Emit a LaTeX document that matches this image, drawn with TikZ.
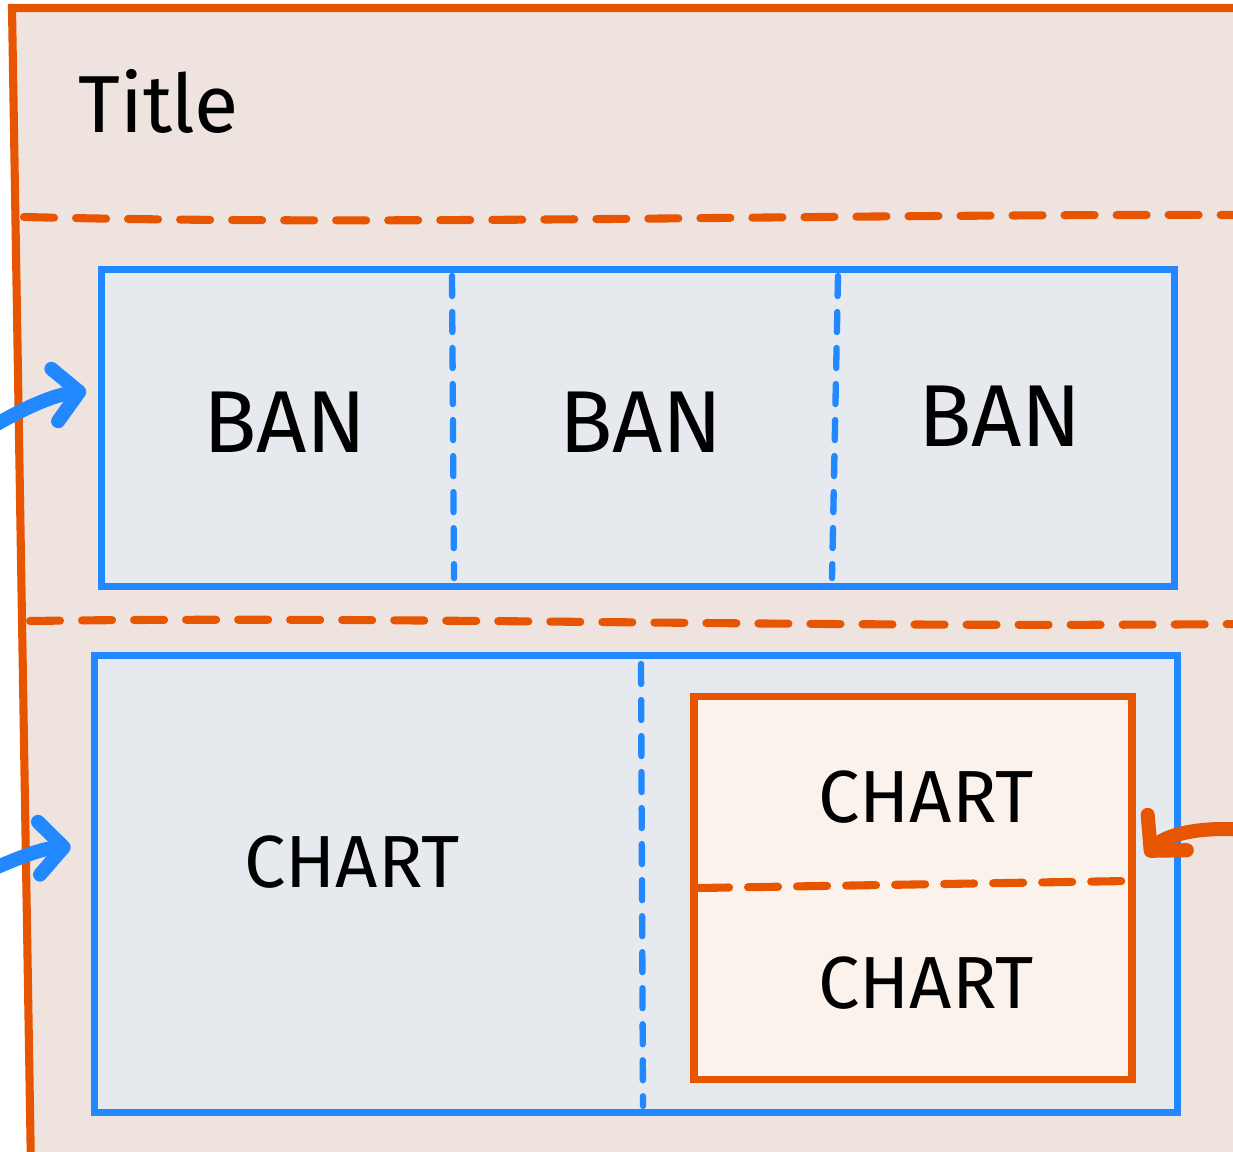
\documentclass[tikz,border=0pt]{standalone}
\usepackage{fontspec}
\setmainfont{Fira Sans}
\usetikzlibrary{arrows.meta,calc}
\definecolor{frameorange}{HTML}{E85500}
\definecolor{framefill}{HTML}{EEE3DE}
\definecolor{bblue}{HTML}{2288FF}
\definecolor{bfill}{HTML}{E6E9EE}
\definecolor{ofill}{HTML}{FBF2EC}
\tikzset{
  bluebox/.style={draw=bblue, fill=bfill, line width=2pt, inner sep=0pt},
  orangebox/.style={draw=frameorange, fill=ofill, line width=2.2pt, inner sep=0pt},
  odash/.style={draw=frameorange, line width=2.3pt, line cap=round, dash pattern=on 0.3cm off 0.22cm},
  bdash/.style={draw=bblue, line width=1.8pt, line cap=round, dash pattern=on 0.2cm off 0.16cm},
  bigtext/.style={font=\fontsize{25}{30}\selectfont, text=black},
  charttext/.style={font=\fontsize{21}{26}\selectfont, text=black},
  titletext/.style={font=\fontsize{23}{28}\selectfont, text=black},
  barrow/.style={draw=bblue, line width=4pt, line cap=round, -{Straight Barb[length=7pt,width=15pt,round]}},
  oarrow/.style={draw=frameorange, line width=4pt, line cap=round, -{Straight Barb[length=7pt,width=15pt,round]}}
}
\begin{document}
\begin{tikzpicture}[x=0.01cm,y=-0.01cm]
\useasboundingbox (0,0) rectangle (1233,1152);
\clip (0,0) rectangle (1233,1152);
\fill[white] (0,0) rectangle (1233,1152);
% outer frame
\path[fill=framefill, draw=frameorange, line width=2.3pt] (12,8) -- (1250,8) -- (1250,1170) -- (31,1170) -- cycle;
% title
\node[titletext, anchor=base west] (title) at (66,133) {Title};
% dashed separators
\draw[odash] (24,217) .. controls (400,226) and (800,214) .. (1240,215);
\draw[odash] (30,621) .. controls (400,616) and (800,628) .. (1240,624);
% BAN box
\node[bluebox, minimum width=10.72cm, minimum height=3.16cm] (banbox) at (638,428) {};
\draw[bdash] (452,276) -- (454,578);
\draw[bdash] (838,276) -- (832,578);
\node[bigtext] (ban1) at (285,422) {BAN};
\node[bigtext] (ban2) at (641,422) {BAN};
\node[bigtext] (ban3) at (1000,416) {BAN};
% CHART box
\node[bluebox, minimum width=10.83cm, minimum height=4.56cm] (chartbox) at (636,884) {};
\draw[bdash] (641,664) -- (643,1106);
\node[charttext] (chart1) at (352,862) {CHART};
% inner orange box
\node[orangebox, minimum width=4.38cm, minimum height=3.83cm] (innerbox) at (913,888) {};
\draw[odash, dash pattern=on 0.3cm off 0.19cm] (699,888) -- (1128,881);
\node[charttext] (chart2) at (926,797) {CHART};
\node[charttext] (chart3) at (926,983) {CHART};
% arrows
\coordinate (a1) at (-5,425);
\coordinate (a2) at (-5,868);
\coordinate (a3) at (1245,830);
\draw[barrow] (a1) .. controls (30,405) and (55,395) .. ($(banbox.west)+(-12,-37)$);
\draw[barrow] (a2) .. controls (25,855) and (45,848) .. ($(chartbox.west)+(-20,-37)$);
\draw[oarrow] (a3) .. controls (1200,826) and (1165,835) .. ($(innerbox.east)+(10,-32)$);
\end{tikzpicture}
\end{document}
